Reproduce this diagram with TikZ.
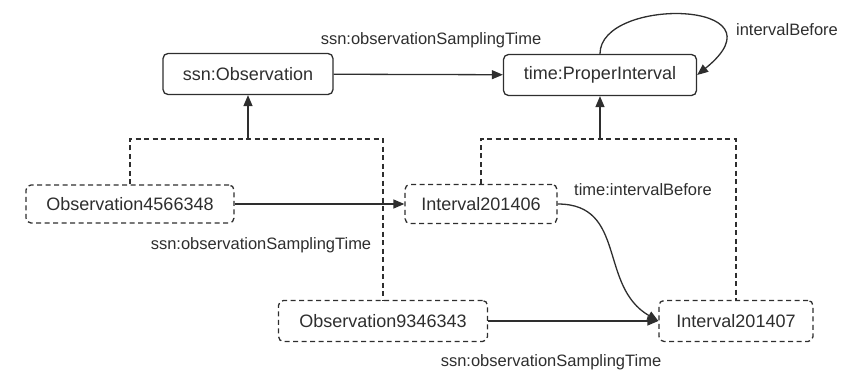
\documentclass[tikz,border=0pt]{standalone}
\usepackage{fontspec}
\setmainfont{Liberation Sans}
\usetikzlibrary{arrows.meta}
\definecolor{ink}{HTML}{2E2E2E}
\tikzset{
  classbox/.style={draw=ink, line width=1.3pt, rounded corners=5pt, minimum height=41pt,
    inner sep=0pt, font=\fontsize{18}{20}\selectfont, text=ink},
  indbox/.style={classbox, dash pattern=on 5pt off 3.5pt},
  rel/.style={draw=ink, line width=1.3pt, -{Triangle[length=11pt,width=9pt]}},
  subcl/.style={draw=ink, line width=1.3pt, dash pattern=on 5pt off 3.5pt},
  lbl/.style={font=\fontsize{16.5}{18}\selectfont, text=ink, inner sep=0pt},
}
\begin{document}
\begin{tikzpicture}[x=1pt, y=-1pt]
\useasboundingbox (0,0) rectangle (846,370);
% classes
\node[classbox, minimum width=170pt] (obs) at (248,74) {ssn:Observation};
\node[classbox, minimum width=193pt] (pi) at (600,75) {time:ProperInterval};
% individuals
\node[indbox, minimum width=208pt, minimum height=38pt] (oa) at (130,204) {Observation4566348};
\node[indbox, minimum width=152pt, minimum height=39pt] (ia) at (481,204) {Interval201406};
\node[indbox, minimum width=209pt] (ob) at (383,321) {Observation9346343};
\node[indbox, minimum width=154pt] (ib) at (736,321) {Interval201407};
% junctions of the subclass trees
\coordinate (jo) at (248,139);
\coordinate (ji) at (600,139);
\draw[subcl] (oa.north) |- (jo) -| (ob.north);
\draw[rel] (jo) -- (obs.south);
\draw[subcl] (ia.north) |- (ji) -| (ib.north);
\draw[rel] (ji) -- (pi.south);
% properties
\draw[rel] (obs) -- (pi);
\node[lbl] (l1) at (431,40) {ssn:observationSamplingTime};
\draw[rel] (pi.north) .. controls (600,-4) and (790,0) .. (pi.east);
\node[lbl] (l2) at (787,30) {intervalBefore};
\draw[rel] (oa) -- (ia);
\node[lbl] (l3) at (261,245) {ssn:observationSamplingTime};
\draw[rel] (ob) -- (ib);
\node[lbl] (l4) at (551,362) {ssn:observationSamplingTime};
\draw[rel] (ia.east) to[out=0, in=150, looseness=1.15] (ib.west);
\node[lbl] (l5) at (643,190) {time:intervalBefore};
\end{tikzpicture}
\end{document}
